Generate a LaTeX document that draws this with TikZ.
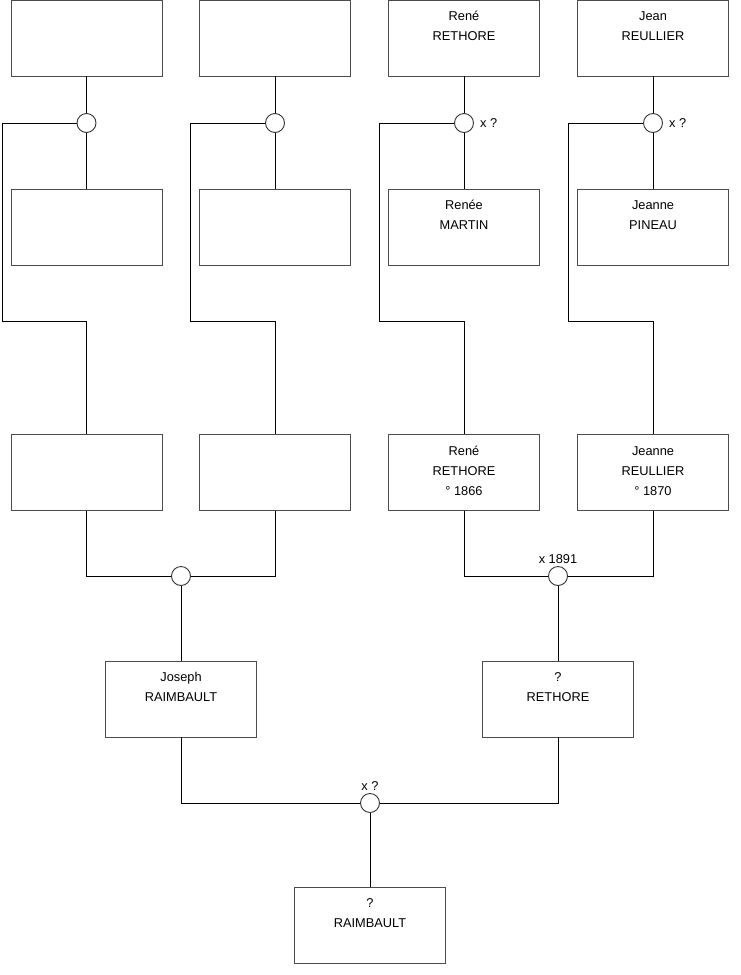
\documentclass[tikz,border=0pt]{standalone}
\usepackage{fontspec}
\setmainfont{Liberation Sans}
\begin{document}
\begin{tikzpicture}[x=1pt,y=-1pt,
  pbox/.style={draw=black!70, line width=0.9pt, minimum width=151pt, minimum height=76pt, inner sep=0pt, fill=white},
  ptext/.style={anchor=base, inner sep=0pt, yshift=-21.3pt, font=\fontsize{12.8}{20}\selectfont},
  union/.style={draw=black!80, line width=0.9pt, circle, minimum size=19pt, inner sep=0pt, fill=white},
  lab/.style={font=\fontsize{12.8}{14}\selectfont, inner sep=0pt},
  link/.style={draw=black, line width=0.9pt}]
\newcommand{\pt}[1]{\begin{tabular}[t]{@{}c@{}}#1\end{tabular}}
\useasboundingbox (0,0) rectangle (740,975);
% row 1
\node[pbox] (b11) at (86.5,38) {};
\node[pbox] (b12) at (275,38) {};
\node[pbox, label={[ptext]north:\pt{René\\RETHORE}}] (b13) at (464,38) {};
\node[pbox, label={[ptext]north:\pt{Jean\\REULLIER}}] (b14) at (653,38) {};
% unions row 1
\node[union] (c1) at (86.5,123) {};
\node[union] (c2) at (275,123) {};
\node[union] (c3) at (464,123) {};
\node[union] (c4) at (653,123) {};
\node[lab, anchor=west] (x3) at (480,123) {x ?};
\node[lab, anchor=west] (x4) at (669,123) {x ?};
% row 2
\node[pbox] (b21) at (86.5,227) {};
\node[pbox] (b22) at (275,227) {};
\node[pbox, label={[ptext]north:\pt{Renée\\MARTIN}}] (b23) at (464,227) {};
\node[pbox, label={[ptext]north:\pt{Jeanne\\PINEAU}}] (b24) at (653,227) {};
% row 3
\node[pbox] (b31) at (86.5,472.5) {};
\node[pbox] (b32) at (275,472.5) {};
\node[pbox, label={[ptext]north:\pt{René\\RETHORE\\° 1866}}] (b33) at (464,472.5) {};
\node[pbox, label={[ptext]north:\pt{Jeanne\\REULLIER\\° 1870}}] (b34) at (653,472.5) {};
% coordinates for side lines
\coordinate (j1) at (2,321);
\coordinate (j2) at (190,321);
\coordinate (j3) at (379,321);
\coordinate (j4) at (568,321);
% connectors top
\foreach \i in {1,2,3,4}{
  \draw[link] (b1\i) -- (c\i);
  \draw[link] (c\i) -- (b2\i);
  \draw[link] (c\i.west) -| (j\i) -| (b3\i.north);
}
% second generation unions
\node[union] (cc1) at (181,576) {};
\node[union] (cc2) at (558,576) {};
\node[lab, anchor=south] (x5) at (558,564) {x 1891};
\draw[link] (b31.south) |- (cc1.west);
\draw[link] (b32.south) |- (cc1.east);
\draw[link] (b33.south) |- (cc2.west);
\draw[link] (b34.south) |- (cc2.east);
% parents
\node[pbox, label={[ptext]north:\pt{Joseph\\RAIMBAULT}}] (p1) at (181,699) {};
\node[pbox, label={[ptext]north:\pt{?\\RETHORE}}] (p2) at (558,699) {};
\draw[link] (cc1) -- (p1);
\draw[link] (cc2) -- (p2);
% final union
\node[union] (cf) at (370,803) {};
\node[lab, anchor=south] (x6) at (370,791) {x ?};
\draw[link] (p1.south) |- (cf.west);
\draw[link] (p2.south) |- (cf.east);
\node[pbox, label={[ptext]north:\pt{?\\RAIMBAULT}}] (ch) at (370,925) {};
\draw[link] (cf) -- (ch);
\end{tikzpicture}
\end{document}
